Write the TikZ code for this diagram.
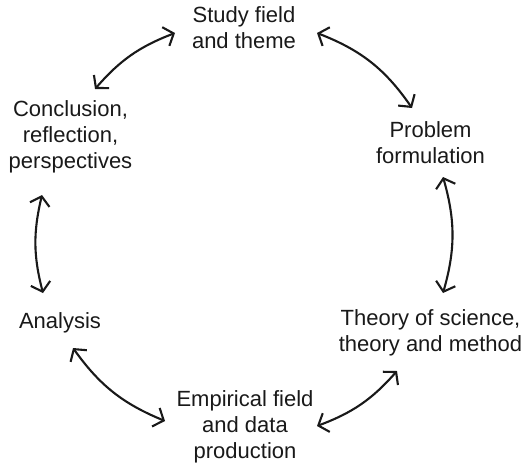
\documentclass[tikz,border=0pt]{standalone}
\usepackage{fontspec}
\setmainfont{Liberation Sans}
\usetikzlibrary{arrows.meta}
\begin{document}
\begin{tikzpicture}[x=1pt,y=-1pt,
  label/.style={align=center, inner sep=0pt, text=black!90,
    font=\fontsize{22pt}{26pt}\selectfont},
  link/.style={line width=2.1pt, black!90,
    {Straight Barb[length=8.5pt,width=20pt,line width=2.1pt]}-{Straight Barb[length=8.5pt,width=20pt,line width=2.1pt]}}
]
\useasboundingbox (0,0) rectangle (527,466);

% stages of the research cycle
\node[label] (study) at (244,28) {Study field\\and theme};
\node[label] (problem) at (430.5,142.5) {Problem\\formulation};
\node[label] (theory) at (430.5,333) {Theory of science,\\theory and method};
\node[label] (empirical) at (245,427) {Empirical field\\and data\\production};
\node[label] (analysis) at (60,322.5) {Analysis};
\node[label] (conclusion) at (70.5,137) {Conclusion,\\reflection,\\perspectives};

% arrow end points between neighbouring stages
\coordinate (c1) at (95,89);   \coordinate (s1) at (175,33);
\coordinate (s2) at (317,33);  \coordinate (p1) at (412,108);
\coordinate (p2) at (443,177); \coordinate (t1) at (443,293);
\coordinate (t2) at (397,371); \coordinate (e1) at (317,426);
\coordinate (e2) at (165,421); \coordinate (a1) at (73,348);
\coordinate (a2) at (43,293);  \coordinate (c2) at (42,195);

% curved two-way arrows around the cycle
\draw[link] (c1) to[bend left=14] (s1);
\draw[link] (s2) to[bend left=17] (p1);
\draw[link] (p2) to[bend left=16] (t1);
\draw[link] (t2) to[bend left=14] (e1);
\draw[link] (e2) to[bend left=16] (a1);
\draw[link] (a2) to[bend left=14] (c2);
\end{tikzpicture}
\end{document}
